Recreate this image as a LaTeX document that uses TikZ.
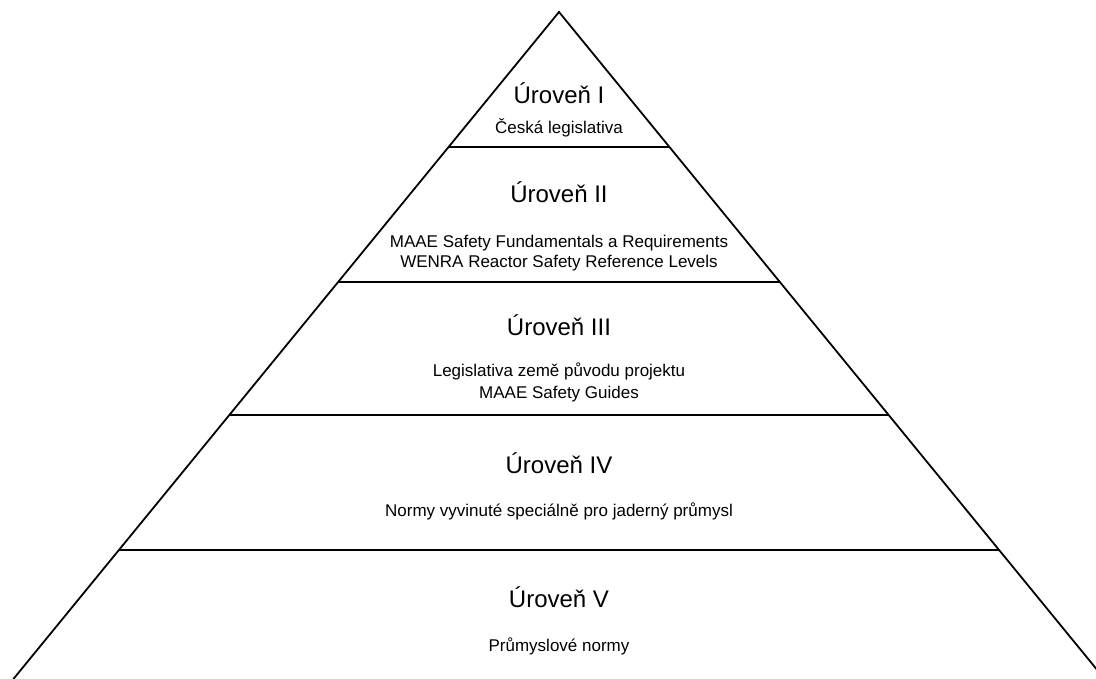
\documentclass[tikz,border=0pt]{standalone}
\usepackage{fontspec}
\setmainfont{Liberation Sans}
\begin{document}
\begin{tikzpicture}[x=1pt,y=-1pt,
  edge/.style={line width=1.8pt,line join=miter},
  title/.style={font=\fontsize{24}{28}\selectfont,anchor=base,inner sep=0pt},
  sub/.style={font=\fontsize{17}{20}\selectfont,anchor=base,inner sep=0pt}]
\useasboundingbox (0,0) rectangle (1096,679);
\clip (0,0) rectangle (1096,679);
\coordinate (apex) at (559,12);
\coordinate (bl) at (13.4,679);
\coordinate (br) at (1104.6,679);
\draw[edge] (bl) -- (apex) -- (br);
\coordinate (l1) at (448.6,147); \coordinate (r1) at (669.4,147);
\coordinate (l2) at (338.1,282); \coordinate (r2) at (779.9,282);
\coordinate (l3) at (229.3,415); \coordinate (r3) at (888.7,415);
\coordinate (l4) at (118.9,550); \coordinate (r4) at (999.1,550);
\draw[edge] (l1) -- (r1);
\draw[edge] (l2) -- (r2);
\draw[edge] (l3) -- (r3);
\draw[edge] (l4) -- (r4);
\node[title] (t1) at (559,104) {Úroveň I};
\node[sub] (s1) at (559,134) {Česká legislativa};
\node[title] (t2) at (559,203) {Úroveň II};
\node[sub] (s2a) at (559,248) {MAAE Safety Fundamentals a Requirements};
\node[sub] (s2b) at (559,268) {WENRA Reactor Safety Reference Levels};
\node[title] (t3) at (559,335) {Úroveň III};
\node[sub] (s3a) at (559,377) {Legislativa země původu projektu};
\node[sub] (s3b) at (559,398) {MAAE Safety Guides};
\node[title] (t4) at (559,473) {Úroveň IV};
\node[sub] (s4) at (559,516) {Normy vyvinuté speciálně pro jaderný průmysl};
\node[title] (t5) at (559,607) {Úroveň V};
\node[sub] (s5) at (559,651) {Průmyslové normy};
\end{tikzpicture}
\end{document}
